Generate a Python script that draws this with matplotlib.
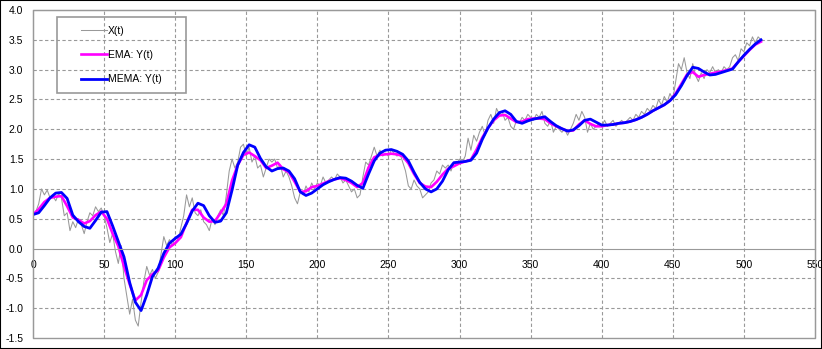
import matplotlib
matplotlib.use("Agg")
import matplotlib.pyplot as plt
import numpy as np
from matplotlib.patches import Rectangle

plt.rcParams['font.family'] = ['Liberation Sans', 'DejaVu Sans']

# raw signal X(t), one value every 2 samples
x_raw = np.arange(0, 513, 2)
X = [0.57, 0.62, 0.75, 1.00, 0.90, 0.98, 0.85, 0.88, 0.80, 0.92,
     0.85, 0.55, 0.60, 0.30, 0.45, 0.35, 0.50, 0.40, 0.25, 0.45,
     0.60, 0.55, 0.70, 0.62, 0.68, 0.55, 0.35, 0.10, 0.25, -0.05,
     -0.25, 0.05, -0.50, -0.80, -1.10, -0.85, -1.20, -1.30, -0.90, -0.55,
     -0.30, -0.45, -0.35, -0.50, -0.40, -0.10, 0.20, 0.05, 0.15, 0.05,
     0.20, 0.15, 0.35, 0.55, 0.90, 0.70, 0.85, 0.60, 0.55, 0.65,
     0.45, 0.40, 0.30, 0.50, 0.40, 0.55, 0.65, 0.55, 0.90, 1.30,
     1.50, 1.35, 1.45, 1.70, 1.75, 1.55, 1.70, 1.45, 1.55, 1.35,
     1.40, 1.20, 1.35, 1.50, 1.45, 1.50, 1.35, 1.40, 1.20, 1.30,
     1.20, 1.05, 0.85, 0.75, 0.95, 0.90, 1.05, 0.95, 1.10, 1.00,
     1.10, 1.05, 1.20, 1.10, 1.15, 1.20, 1.15, 1.25, 1.20, 1.10,
     1.15, 1.05, 0.95, 1.00, 0.85, 0.90, 1.20, 1.45, 1.40, 1.55,
     1.70, 1.55, 1.65, 1.55, 1.60, 1.55, 1.65, 1.60, 1.55, 1.60,
     1.45, 1.30, 1.05, 1.00, 1.15, 1.05, 1.00, 0.85, 0.90, 0.95,
     1.10, 1.15, 1.30, 1.25, 1.40, 1.35, 1.40, 1.30, 1.45, 1.40,
     1.50, 1.45, 1.55, 1.85, 1.65, 1.90, 1.80, 1.95, 2.05, 1.90,
     2.15, 2.25, 2.10, 2.35, 2.25, 2.30, 2.15, 2.20, 2.05, 2.00,
     2.15, 2.10, 2.20, 2.15, 2.25, 2.20, 2.15, 2.25, 2.20, 2.30,
     2.10, 2.05, 2.15, 1.95, 2.05, 2.00, 1.95, 2.00, 1.90, 2.00,
     2.10, 2.25, 2.15, 2.30, 2.20, 1.95, 2.10, 2.00, 2.05, 2.10,
     2.05, 2.15, 2.05, 2.10, 2.15, 2.05, 2.10, 2.15, 2.10, 2.15,
     2.20, 2.15, 2.25, 2.20, 2.30, 2.25, 2.35, 2.30, 2.40, 2.35,
     2.50, 2.40, 2.55, 2.45, 2.60, 2.50, 2.80, 3.10, 3.00, 3.20,
     2.95, 2.85, 3.10, 2.90, 2.80, 2.95, 2.85, 3.00, 2.95, 3.05,
     2.95, 3.00, 2.95, 3.05, 3.00, 3.05, 3.20, 3.25, 3.15, 3.35,
     3.30, 3.45, 3.40, 3.55, 3.45, 3.55, 3.50]

# smoothed series, one value every 4 samples
x_smooth = np.arange(0, 513, 4)
ema = [0.57, 0.66, 0.78, 0.85, 0.87, 0.88, 0.71, 0.52, 0.48, 0.42,
       0.46, 0.56, 0.62, 0.50, 0.25, 0.04, -0.30, -0.60, -0.87, -0.78,
       -0.53, -0.43, -0.37, -0.15, 0.02, 0.09, 0.19, 0.43, 0.65, 0.65,
       0.52, 0.45, 0.46, 0.60, 0.75, 1.14, 1.40, 1.57, 1.61, 1.55,
       1.48, 1.35, 1.39, 1.44, 1.33, 1.28, 1.12, 0.95, 0.96, 1.03,
       1.05, 1.09, 1.13, 1.16, 1.18, 1.15, 1.10, 1.03, 1.10, 1.36,
       1.53, 1.57, 1.58, 1.59, 1.58, 1.55, 1.43, 1.25, 1.10, 1.04,
       1.03, 1.12, 1.24, 1.34, 1.38, 1.43, 1.46, 1.49, 1.66, 1.86,
       2.02, 2.15, 2.23, 2.24, 2.18, 2.12, 2.13, 2.17, 2.18, 2.18,
       2.17, 2.10, 2.05, 2.01, 1.97, 1.98, 2.08, 2.15, 2.09, 2.05,
       2.05, 2.07, 2.08, 2.10, 2.11, 2.13, 2.16, 2.20, 2.25, 2.31,
       2.36, 2.41, 2.48, 2.60, 2.76, 2.92, 2.96, 2.88, 2.91, 2.93,
       2.95, 2.97, 2.99, 3.02, 3.13, 3.23, 3.33, 3.42, 3.47]
mema = [0.57, 0.60, 0.72, 0.85, 0.93, 0.94, 0.84, 0.56, 0.45, 0.37,
        0.34, 0.47, 0.61, 0.62, 0.38, 0.12, -0.14, -0.57, -0.90, -1.04,
        -0.78, -0.47, -0.33, -0.08, 0.09, 0.17, 0.24, 0.42, 0.63, 0.76,
        0.72, 0.55, 0.44, 0.46, 0.60, 0.98, 1.40, 1.61, 1.74, 1.70,
        1.51, 1.37, 1.30, 1.34, 1.35, 1.30, 1.17, 0.95, 0.89, 0.93,
        1.00, 1.07, 1.12, 1.16, 1.19, 1.18, 1.13, 1.06, 1.01, 1.25,
        1.47, 1.60, 1.65, 1.66, 1.63, 1.58, 1.47, 1.28, 1.11, 1.00,
        0.95, 1.00, 1.13, 1.32, 1.44, 1.45, 1.46, 1.48, 1.60, 1.83,
        2.02, 2.17, 2.28, 2.31, 2.25, 2.13, 2.10, 2.14, 2.17, 2.19,
        2.21, 2.13, 2.06, 2.01, 1.97, 1.99, 2.06, 2.15, 2.17, 2.12,
        2.07, 2.07, 2.08, 2.10, 2.11, 2.13, 2.16, 2.20, 2.25, 2.31,
        2.36, 2.41, 2.48, 2.58, 2.73, 2.90, 3.04, 3.02, 2.96, 2.91,
        2.92, 2.95, 2.98, 3.01, 3.13, 3.24, 3.34, 3.43, 3.50]

xticks = np.arange(0, 551, 50)
yticks = np.arange(-1.5, 4.01, 0.5)

fig = plt.figure(figsize=(8.22, 3.49), dpi=100)
ax = fig.add_axes([33 / 822, 11 / 349, 782 / 822, 328 / 349])

ax.plot(x_raw, X, color='#999999', lw=0.75, label='X(t)')
ax.plot(x_smooth, ema, color='#ff00ff', lw=1.9, label='EMA: Y(t)')
ax.plot(x_smooth, mema, color='#0000ff', lw=2.0, label='MEMA: Y(t)')

ax.set_xlim(0, 550)
ax.set_ylim(-1.5, 4.0)
ax.set_xticks(xticks)
ax.set_yticks(yticks)
ax.set_xticklabels([str(v) for v in xticks])
ax.set_yticklabels(['%.1f' % v for v in yticks])
ax.tick_params(length=0, labelsize=7.5)
ax.tick_params(axis='y', pad=7)
ax.tick_params(axis='x', pad=8)

# grid, skipping the zero line that acts as x axis
for v in xticks[1:-1]:
    ax.axvline(v, color='#999999', lw=0.8, ls=(0, (3, 2.2)), zorder=0)
for v in yticks[1:-1]:
    if abs(v) > 1e-9:
        ax.axhline(v, color='#999999', lw=0.8, ls=(0, (3, 2.2)), zorder=0)

for s in ['top', 'left', 'right']:
    ax.spines[s].set_color('#999999')
ax.spines['bottom'].set_position(('data', 0))
ax.spines['bottom'].set_color('#999999')
ax.add_patch(Rectangle((0, 0), 1, 1, transform=ax.transAxes, fill=False,
                       edgecolor='#999999', lw=1.0, clip_on=False))

leg = ax.legend(loc='upper left', bbox_to_anchor=(81 / 822, 1 - 25.5 / 349),
                bbox_transform=fig.transFigure, frameon=False, fontsize=7.5,
                handlelength=2.5, handletextpad=0.1, labelspacing=1.38,
                borderpad=0.0, borderaxespad=0.0)
fig.patches.append(Rectangle((57 / 822, 1 - 93 / 349), 129 / 822, 76 / 349,
                             transform=fig.transFigure, fill=False,
                             edgecolor='#999999', lw=1.2))

fig.patches.append(Rectangle((0, 0), 1, 1, transform=fig.transFigure,
                             fill=False, edgecolor='black', lw=1.5))

fig.savefig('out.png', dpi=100)
